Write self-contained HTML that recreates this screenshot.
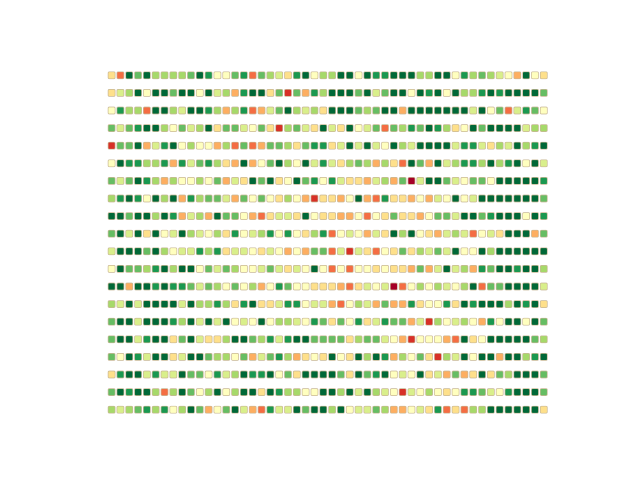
<!DOCTYPE html>
<html><head><meta charset="utf-8"><style>
html,body{margin:0;padding:0;background:#fff;}
svg{display:block;}
</style></head>
<body>
<svg id="chart" width="640" height="480"></svg>
<script>
// values on a 0..10 scale (0 = dark red, 10 = dark green), one array per row
const row00=[4,2,10,8,10,7,7,7,7,8,10,9,5,5,8,9,2,8,7,6,4,9,10,5,7,7,10,10,5,10,9,9,10,10,10,7,7,10,10,5,9,7,8,7,6,5,3,10,5,4];
const row01=[4,6,7,10,5,10,10,8,10,10,5,10,6,7,3,9,10,10,4,8,1,8,3,9,7,10,10,10,8,10,6,8,10,10,5,10,9,10,5,10,7,7,9,10,9,10,10,10,10,8];
const row02=[5,9,7,7,2,10,10,7,6,10,10,9,7,3,7,9,2,3,6,8,10,7,6,7,4,10,10,10,8,7,8,10,10,3,10,10,10,10,10,10,10,6,10,5,8,2,6,9,8,5];
const row03=[8,6,8,9,10,10,7,5,8,6,7,10,4,8,8,6,5,8,4,1,7,8,6,4,10,6,4,10,5,6,8,2,8,7,9,8,10,9,7,4,5,10,8,10,10,10,10,6,7,7];
const row04=[1,8,8,10,3,6,9,10,5,7,5,5,3,7,2,8,2,3,8,8,7,4,8,9,9,4,6,10,6,10,6,5,10,7,6,10,10,10,10,6,9,9,6,4,7,6,10,7,9,10];
const row05=[5,10,9,9,7,7,9,3,9,6,8,9,7,4,3,10,3,5,8,10,7,5,10,6,9,6,4,7,8,7,3,7,4,2,10,8,3,10,6,7,9,9,7,10,7,9,10,5,10,6];
const row06=[8,6,8,10,9,7,3,7,5,5,7,5,8,3,6,4,10,8,10,4,5,10,8,9,5,9,6,4,4,3,6,7,3,8,0,6,10,10,8,6,5,8,8,5,10,10,10,10,10,9];
const row07=[7,9,10,9,5,10,7,10,3,9,7,8,8,6,3,8,5,8,5,4,7,5,3,1,4,4,3,5,10,3,2,9,4,4,3,5,3,6,5,10,5,6,10,10,10,10,10,10,10,8];
const row08=[10,10,8,10,10,7,10,9,3,6,7,3,10,8,8,5,3,2,4,6,6,4,10,5,4,4,3,3,5,2,5,4,8,4,4,3,5,8,8,6,10,10,8,9,10,10,10,5,10,9];
const row09=[8,10,6,10,4,10,5,6,10,7,6,5,7,4,9,5,6,7,9,5,9,5,4,7,9,2,5,6,5,3,6,4,10,7,10,5,4,3,6,7,6,2,5,6,4,10,10,10,3,8];
const row10=[6,10,10,10,8,10,7,5,6,6,9,7,9,4,6,6,5,4,6,5,3,5,3,8,8,2,6,1,6,4,2,5,4,8,4,7,6,8,6,10,5,5,10,7,10,10,10,10,10,10];
const row11=[5,10,8,8,7,9,10,7,10,10,5,8,6,8,7,5,5,6,8,6,4,6,5,10,5,2,5,2,5,5,4,5,4,4,3,8,3,6,10,6,7,3,9,8,10,10,9,10,10,7];
const row12=[10,10,3,10,10,9,10,9,9,8,6,8,7,5,8,5,7,3,5,9,8,5,5,4,4,4,3,2,4,6,5,6,0,2,5,7,5,7,6,5,7,10,2,8,8,10,10,10,10,6];
const row13=[7,6,10,6,10,10,10,10,6,10,7,7,9,7,4,9,10,4,4,6,9,9,5,6,6,3,2,5,7,6,3,8,3,3,9,4,5,5,9,4,10,9,10,10,10,7,10,9,10,4];
const row14=[8,10,10,6,10,10,10,9,7,10,6,10,6,10,5,6,5,10,5,7,7,6,5,9,8,4,8,5,9,4,6,9,8,8,3,6,1,7,5,6,7,5,3,9,5,10,10,5,10,8];
const row15=[8,10,10,6,9,10,10,4,8,10,6,4,4,7,10,10,8,7,9,6,9,10,10,8,8,8,8,4,7,8,8,6,5,3,1,5,5,5,3,2,10,4,5,10,10,10,10,10,8,7];
const row16=[8,5,10,9,6,10,10,4,6,10,10,8,7,7,5,8,3,6,8,9,7,3,4,5,4,10,5,4,10,7,10,9,3,7,5,8,4,1,7,6,10,5,10,10,3,10,10,7,9,10];
const row17=[4,9,10,10,6,9,6,6,10,8,8,5,9,6,7,10,9,9,10,5,8,4,10,10,10,10,8,4,10,8,9,10,5,6,5,10,4,6,3,8,3,4,10,4,8,7,10,10,10,8];
const row18=[8,10,9,10,10,7,2,7,10,8,5,7,10,5,7,10,10,4,10,9,7,7,5,5,10,10,7,10,6,10,7,6,5,1,6,5,7,5,4,5,9,9,8,6,5,9,10,10,10,8];
const row19=[7,6,7,8,9,7,9,5,7,10,8,3,5,8,10,6,3,2,9,6,6,10,8,10,10,7,10,5,6,6,8,7,3,3,5,6,4,9,2,4,2,7,7,10,10,10,10,10,10,4];
const rows=[row00,row01,row02,row03,row04,row05,row06,row07,row08,row09,row10,row11,row12,row13,row14,row15,row16,row17,row18,row19];

const palette=['#a50026','#d73027','#f46d43','#fdae61','#fee08b','#ffffbf','#d9ef8b','#a6d96a','#66bd63','#1a9850','#006837'];
const nCols=50, nRows=20;
const x0=111.6, dx=8.82, y0=75.3, dy=17.6, size=7;
function xPos(c){return x0+c*dx;}
function yPos(r){return y0+r*dy;}
function color(v){const i=Math.max(0,Math.min(10,Math.round(v)));return palette[i];}

const svg=document.getElementById('chart');
const NS='http://www.w3.org/2000/svg';
rows.forEach(function(vals,r){
  vals.forEach(function(v,c){
    const rect=document.createElementNS(NS,'rect');
    rect.setAttribute('x',(xPos(c)-size/2).toFixed(2));
    rect.setAttribute('y',(yPos(r)-size/2).toFixed(2));
    rect.setAttribute('width',size);
    rect.setAttribute('height',size);
    rect.setAttribute('rx',1.3);
    rect.setAttribute('fill',color(v));
    rect.setAttribute('stroke','#c9b896');
    rect.setAttribute('stroke-width','0.7');
    
    
    svg.appendChild(rect);
  });
});
</script>
</body></html>
